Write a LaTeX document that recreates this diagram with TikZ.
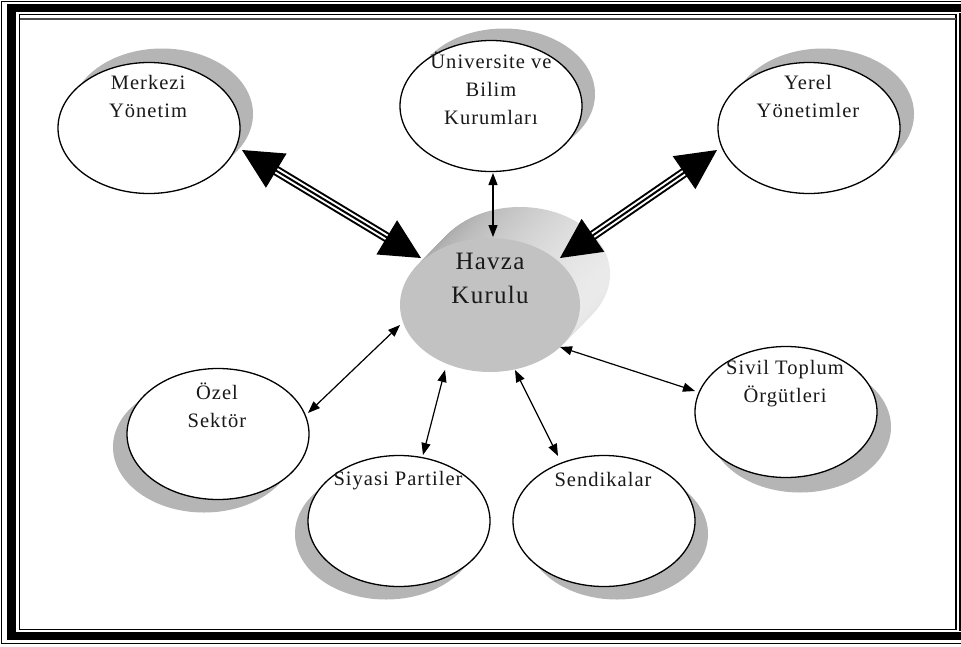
\documentclass[tikz,border=0pt]{standalone}
\usepackage{fontspec}
\setmainfont{Liberation Serif}
\usetikzlibrary{arrows.meta,calc,shapes.geometric,shadows}
\newcommand{\bigarrow}[2]{%
  \draw[line width=10] ($(#1)!36pt!(#2)$) -- ($(#2)!36pt!(#1)$);
  \draw[white,line width=6] ($(#1)!36pt!(#2)$) -- ($(#2)!36pt!(#1)$);
  \draw[line width=2] ($(#1)!36pt!(#2)$) -- ($(#2)!36pt!(#1)$);
  \coordinate (bm1) at ($(#1)!40pt!(#2)$);
  \coordinate (bm2) at ($(#2)!40pt!(#1)$);
  \fill (#1) -- ($(bm1)!20pt!90:(#1)$) -- ($(bm1)!20pt!-90:(#1)$) -- cycle;
  \fill (#2) -- ($(bm2)!20pt!90:(#2)$) -- ($(bm2)!20pt!-90:(#2)$) -- cycle;
}
\begin{document}
\begin{tikzpicture}[x=1pt,y=-1pt,
  shadecol/.style={fill=black!29},
  bubble/.style={ellipse, draw=black, line width=1.3, fill=white, inner sep=0pt,
    minimum width=182, minimum height=131},
  lbl/.style={font=\fontsize{20.5}{28}\selectfont\addfontfeature{LetterSpace=5},
    align=center, inner sep=0pt, anchor=base, text=black!90},
  thinarrow/.style={line width=1.2, {Triangle[length=12pt,width=9pt]}-{Triangle[length=12pt,width=9pt]}}]
\useasboundingbox (0,0) rectangle (961,646);
% frame
\fill[white] (0,0) rectangle (961,646);
\draw[line width=1.5] (1.5,1.5) rectangle (975,643.5);
\draw[line width=8.5] (11.5,8) rectangle (980,636);
\draw[line width=1.5] (19.5,14.5) rectangle (956,629.5);
\draw[line width=1.2, black!70] (19.5,19) -- (956,19);
\draw[line width=1.5] (960,13) -- (960,631);
% bubbles with shadows
\node[bubble, general shadow={shadecol, shadow xshift=13pt, shadow yshift=14pt}] (merk) at (149,128) {};
\node[bubble, general shadow={shadecol, shadow xshift=13pt, shadow yshift=12pt}] (univ) at (491,106) {};
\node[bubble, general shadow={shadecol, shadow xshift=14pt, shadow yshift=14pt}] (yerel) at (809,128) {};
\node[bubble, general shadow={shadecol, shadow xshift=-14pt, shadow yshift=-13pt}] (ozel) at (218,434) {};
\node[bubble, general shadow={shadecol, shadow xshift=-13pt, shadow yshift=-13pt}] (siyasi) at (399,521) {};
\node[bubble, general shadow={shadecol, shadow xshift=13pt, shadow yshift=-13pt}] (sendika) at (604,521) {};
\node[bubble, general shadow={shadecol, shadow xshift=14pt, shadow yshift=-15pt}] (sivil) at (786,412) {};
% Havza 3D body
\foreach \i in {31,30,...,1}{
  \shade[left color=black!36, right color=black!8] ($(490,305)+(\i*0.97,-\i)$) ellipse [x radius=90, y radius=67];
}
\node[ellipse, fill=black!24, inner sep=0pt, minimum width=180, minimum height=134] (havza) at (490,305) {};
% arrow end points
\coordinate (m1) at (242,150); \coordinate (m2) at (421,258);
\coordinate (y1) at (717,150); \coordinate (y2) at (560,258);
\coordinate (u1) at (493,173); \coordinate (u2) at (493,237);
\coordinate (o1) at (400,325); \coordinate (o2) at (308,413);
\coordinate (p1) at (445,370); \coordinate (p2) at (423,455);
\coordinate (s1) at (515,370); \coordinate (s2) at (558,456);
\coordinate (v1) at (560,347); \coordinate (v2) at (695,391);
\bigarrow{m1}{m2}
\bigarrow{y1}{y2}
\draw[thinarrow] (u1) -- (u2);
\draw[thinarrow] (o1) -- (o2);
\draw[thinarrow] (p1) -- (p2);
\draw[thinarrow] (s1) -- (s2);
\draw[thinarrow] (v1) -- (v2);
% labels
\node[lbl] (merkT) at (148,117) {Merkezi\\Yönetim};
\node[lbl] (univT) at (491,124) {Üniversite ve\\Bilim\\Kurumları};
\node[lbl] (yerelT) at (808,117) {Yerel\\Yönetimler};
\node[lbl, font=\fontsize{25}{34}\selectfont\addfontfeature{LetterSpace=5}] (havzaT) at (490,303) {Havza\\Kurulu};
\node[lbl] (ozelT) at (217,427) {Özel\\Sektör};
\node[lbl] (siyasiT) at (398,485) {Siyasi Partiler};
\node[lbl] (sendikaT) at (603,486) {Sendikalar};
\node[lbl] (sivilT) at (785,402) {Sivil Toplum\\Örgütleri};
\end{tikzpicture}
\end{document}
